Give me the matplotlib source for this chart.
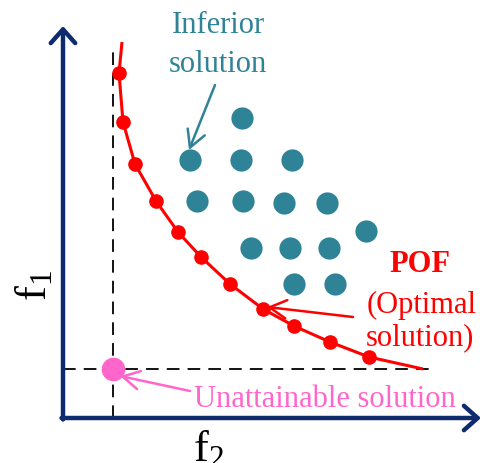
import matplotlib
matplotlib.use("Agg")
import matplotlib.pyplot as plt

plt.rcParams['font.family'] = ['Liberation Serif', 'DejaVu Serif']
plt.rcParams['mathtext.fontset'] = 'custom'
plt.rcParams['mathtext.rm'] = 'Liberation Serif'
plt.rcParams['mathtext.it'] = 'Liberation Serif:italic'

# Pareto optimal front (marker points) and curve end points
pof_x = [56, 60, 72, 93, 115, 138, 167, 200, 231, 267, 306]
pof_y = [345, 296, 254, 217, 186, 161, 134, 109, 92, 76, 61]
curve_x = [59] + pof_x + [360]
curve_y = [376] + pof_y + [49]

# Inferior solutions
inf_x = [179, 127, 178, 229, 134, 180, 221, 264, 303, 188, 227, 266, 231, 272]
inf_y = [300, 258, 258, 258, 217, 217, 215, 215, 187, 170, 170, 170, 134, 134]

# Unattainable (ideal) solution
ideal_x = 50
ideal_y = 49

NAVY = '#0E2B6E'
TEAL = '#2E8397'
RED = '#FF0000'
PINK = '#FF66CC'

fig = plt.figure(figsize=(4.83, 4.64), dpi=100)
ax = fig.add_axes([0, 0, 1, 1])
ax.set_xlim(-63, 420)
ax.set_ylim(-45, 419)
ax.axis('off')

# axes with arrows
ax.annotate('', xy=(0, 392), xytext=(0, -1.5),
            arrowprops=dict(arrowstyle='->,head_length=0.45,head_width=0.4',
                            color=NAVY, lw=3.2, mutation_scale=22,
                            shrinkA=0, shrinkB=0))
ax.annotate('', xy=(418, 0), xytext=(-1.5, 0),
            arrowprops=dict(arrowstyle='->,head_length=0.45,head_width=0.4',
                            color=NAVY, lw=3.2, mutation_scale=22,
                            shrinkA=0, shrinkB=0))

# dashed reference lines
ax.plot([ideal_x, ideal_x], [0, 371], color='black', lw=1.3,
        dashes=(7, 4.5), zorder=2)
ax.plot([0, 372], [ideal_y, ideal_y], color='black', lw=1.3,
        dashes=(7, 4.5), zorder=2)

# POF curve
ax.plot(curve_x, curve_y, color=RED, lw=2.2, zorder=3,
        solid_capstyle='butt', solid_joinstyle='round')
ax.plot(pof_x, pof_y, 'o', color=RED, ms=9.5, zorder=4)

# inferior solutions
ax.plot(inf_x, inf_y, 'o', color=TEAL, ms=16, mec='none', zorder=4)

# ideal point
ax.plot([ideal_x], [ideal_y], 'o', color=PINK, ms=17, mec='none', zorder=5)

# annotations
ax.annotate('', xy=(126, 268), xytext=(152, 333),
            arrowprops=dict(arrowstyle='->,head_length=0.55,head_width=0.3',
                            color=TEAL, lw=1.8, mutation_scale=22,
                            shrinkA=0, shrinkB=0))
ax.annotate('', xy=(204, 111), xytext=(290, 101),
            arrowprops=dict(arrowstyle='->,head_length=0.55,head_width=0.3',
                            color=RED, lw=1.8, mutation_scale=22,
                            shrinkA=0, shrinkB=0), zorder=6)
ax.annotate('', xy=(57, 42), xytext=(127, 27),
            arrowprops=dict(arrowstyle='->,head_length=0.55,head_width=0.3',
                            color=PINK, lw=1.8, mutation_scale=22,
                            shrinkA=0, shrinkB=0), zorder=6)

fs = 22
ax.text(155, 386, 'Inferior', color=TEAL, fontsize=fs, ha='center', va='baseline')
ax.text(155, 347, 'solution', color=TEAL, fontsize=fs, ha='center', va='baseline')
ax.text(357, 147, 'POF', color=RED, fontsize=fs, fontweight='bold',
        ha='center', va='baseline')
ax.text(359, 106, '(Optimal', color=RED, fontsize=fs, ha='center', va='baseline')
ax.text(357, 74, 'solution)', color=RED, fontsize=fs, ha='center', va='baseline')
ax.text(262, 12, 'Unattainable solution', color=PINK, fontsize=fs,
        ha='center', va='baseline')

ax.text(146, -42, r'$\mathrm{f}_{2}$', fontsize=32, ha='center', va='baseline',
        color='black')
ax.text(-28, 133, r'$\mathrm{f}_{1}$', fontsize=32, ha='center', va='center',
        rotation=90, color='black')

fig.savefig('out.png', dpi=100)
